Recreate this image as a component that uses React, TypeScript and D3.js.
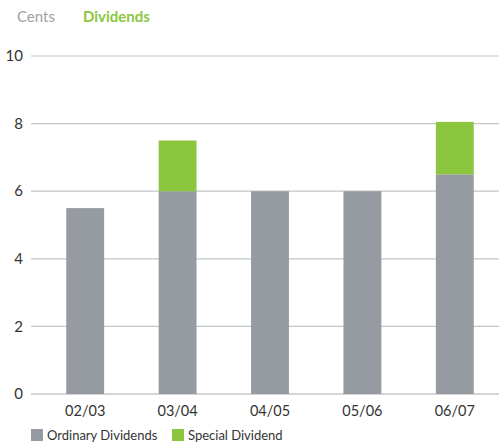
import React from "react";
import * as d3 from "d3";

const categories = ["02/03", "03/04", "04/05", "05/06", "06/07"];
const ordinary = [5.5, 6, 6, 6, 6.5];
const special = [0, 1.5, 0, 0, 1.55];
const yTicks = [0, 2, 4, 6, 8, 10];
const seriesNames = ["Ordinary Dividends", "Special Dividend"];

const W = 499, H = 444;
const GREY = "#959ba1";
const GREEN = "#8cc63f";
const FONT = "Lato, 'Open Sans', sans-serif";

export default function App() {
  const y = d3.scaleLinear().domain([0, 10]).range([394, 56]);
  const x = d3.scaleBand<string>().domain(categories).range([39, 501]).paddingInner(0.59).paddingOuter(0.295);
  const stack = d3.stack<any>().keys(["o", "s"])(
    categories.map((c, i) => ({ c, o: ordinary[i], s: special[i] }))
  );
  const colors = [GREY, GREEN];
  return (
    <svg width={W} height={H} style={{ position: "absolute", left: 0, top: 0, background: "#fff" }} fontFamily={FONT}>
      <text x={17} y={22} fontSize={15} fill="#a0a0a0">Cents</text>
      <text x={83} y={22} fontSize={15} fill={GREEN} fontWeight="bold">Dividends</text>
      {yTicks.map((t) => (
        <g key={t}>
          <line x1={31} x2={W} y1={y(t)} y2={y(t)} stroke={t === 0 ? "#a9acb0" : "#c3c5c8"} strokeWidth={1.2} />
          <text x={23} y={y(t)} dy="0.35em" textAnchor="end" fontSize={15} fill="#333">{t}</text>
        </g>
      ))}
      {stack.map((layer, li) =>
        layer.map((d, i) =>
          d[1] - d[0] > 0 ? (
            <rect key={li + "-" + i} x={x(categories[i])} width={x.bandwidth()} y={y(d[1])} height={y(d[0]) - y(d[1])} fill={colors[li]} />
          ) : null
        )
      )}
      {categories.map((c) => (
        <text key={c} x={(x(c) as number) + x.bandwidth() / 2} y={416} textAnchor="middle" fontSize={14.5} fill="#333">{c}</text>
      ))}
      {seriesNames.map((n, i) => {
        const lx = i === 0 ? 31 : 172;
        return (
          <g key={n}>
            <rect x={lx} y={429} width={12} height={12} fill={colors[i]} />
            <text x={lx + 16} y={440} fontSize={13} fill="#333">{n}</text>
          </g>
        );
      })}
    </svg>
  );
}
